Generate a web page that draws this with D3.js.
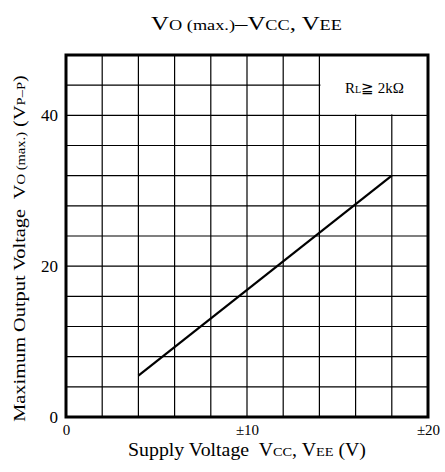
<!DOCTYPE html>
<html><head><meta charset="utf-8">
<script src="https://cdn.jsdelivr.net/npm/d3@7"></script>
<style>body{margin:0;background:#fff}svg{display:block}text{font-family:"Liberation Serif","Times New Roman",serif;fill:#000}</style>
</head><body>
<script>
const supplyVoltage = [4, 18];
const outputVoltage = [5.5, 32];
const xTickValues = [0, 10, 20];
const xTickLabels = ["0", "±10", "±20"];
const yTickValues = [0, 20, 40];
const yTickLabels = ["0", "20", "40"];
const xGrid = d3.range(2, 20, 2);
const yGrid = d3.range(4, 48, 4);

const W = 445, H = 472;
const L = 66, R = 428, T = 55, B = 417;
const svg = d3.select("body").append("svg").attr("width", W).attr("height", H);
const x = d3.scaleLinear().domain([0, 20]).range([L, R]);
const y = d3.scaleLinear().domain([0, 48]).range([B, T]);

// place a text element at (cx, cy), stretched horizontally to a target width
function fit(sel, cx, cy, target, rot) {
  const w = sel.node().getComputedTextLength();
  const k = target / w;
  sel.attr("transform", `translate(${cx},${cy})${rot ? " rotate(" + rot + ")" : ""} scale(${k},1)`);
}

// grid
svg.append("g").selectAll("line").data(xGrid).join("line")
  .attr("x1", d => x(d)).attr("x2", d => x(d)).attr("y1", y(0)).attr("y2", y(48))
  .attr("stroke", "#000").attr("stroke-width", 1.2);
svg.append("g").selectAll("line").data(yGrid).join("line")
  .attr("y1", d => y(d)).attr("y2", d => y(d)).attr("x1", x(0)).attr("x2", x(20))
  .attr("stroke", "#000").attr("stroke-width", 1.2);

// legend box (white, covers grid)
svg.append("rect").attr("x", x(14) + 1).attr("y", y(48)).attr("width", x(20) - x(14) - 1).attr("height", y(40) - y(48) - 1)
  .attr("fill", "#fff");
const leg = svg.append("text").attr("text-anchor", "middle").style("font-size", "15px");
leg.append("tspan").text("R");
leg.append("tspan").text("L").style("font-size", "10px");
leg.append("tspan").text("≧ 2kΩ");
fit(leg, 374.5, 93.3, 59);

// data line
const pts = supplyVoltage.map((v, i) => [v, outputVoltage[i]]);
svg.append("path").datum(pts)
  .attr("d", d3.line().x(d => x(d[0])).y(d => y(d[1])))
  .attr("fill", "none").attr("stroke", "#000").attr("stroke-width", 2.2);

// frame
svg.append("rect").attr("x", L).attr("y", T).attr("width", R - L).attr("height", B - T)
  .attr("fill", "none").attr("stroke", "#000").attr("stroke-width", 3);

// axes labels
const xAxis = d3.axisBottom(x).tickValues(xTickValues).tickFormat((d, i) => xTickLabels[i]).tickSize(0).tickPadding(7);
const gx = svg.append("g").attr("transform", `translate(0,${B})`).call(xAxis);
gx.select(".domain").remove();
gx.selectAll("text").style("font-size", "15px").style("font-family", '"Liberation Serif",serif').attr("fill", "#000");

const yAxis = d3.axisLeft(y).tickValues(yTickValues).tickFormat((d, i) => yTickLabels[i]).tickSize(0).tickPadding(8);
const gy = svg.append("g").attr("transform", `translate(${L},0)`).call(yAxis);
gy.select(".domain").remove();
gy.selectAll("text").style("font-size", "17px").style("font-family", '"Liberation Serif",serif').attr("fill", "#000");

// title
const t = svg.append("text").attr("text-anchor", "middle").style("font-size", "19px");
t.append("tspan").text("V");
t.append("tspan").text("O (max.)").style("font-size", "14px");
t.append("tspan").text("–V");
t.append("tspan").text("CC").style("font-size", "14px");
t.append("tspan").text(", V");
t.append("tspan").text("EE").style("font-size", "14px");
fit(t, 246.5, 30, 191);

// x label
const xl = svg.append("text").attr("text-anchor", "middle").style("font-size", "18px").attr("xml:space", "preserve");
xl.append("tspan").text("Supply Voltage  V");
xl.append("tspan").text("CC").style("font-size", "13px");
xl.append("tspan").text(", V");
xl.append("tspan").text("EE").style("font-size", "13px");
xl.append("tspan").text(" (V)");
fit(xl, 247, 456, 238);

// y label
const yl = svg.append("text").attr("text-anchor", "middle").style("font-size", "17.5px").attr("xml:space", "preserve");
yl.append("tspan").text("Maximum Output Voltage  V");
yl.append("tspan").text("O (max.)").style("font-size", "12.5px");
yl.append("tspan").text(" (V");
yl.append("tspan").text("P–P").style("font-size", "12.5px");
yl.append("tspan").text(")");
fit(yl, 25, 248.5, 347, -90);
</script>
</body></html>
